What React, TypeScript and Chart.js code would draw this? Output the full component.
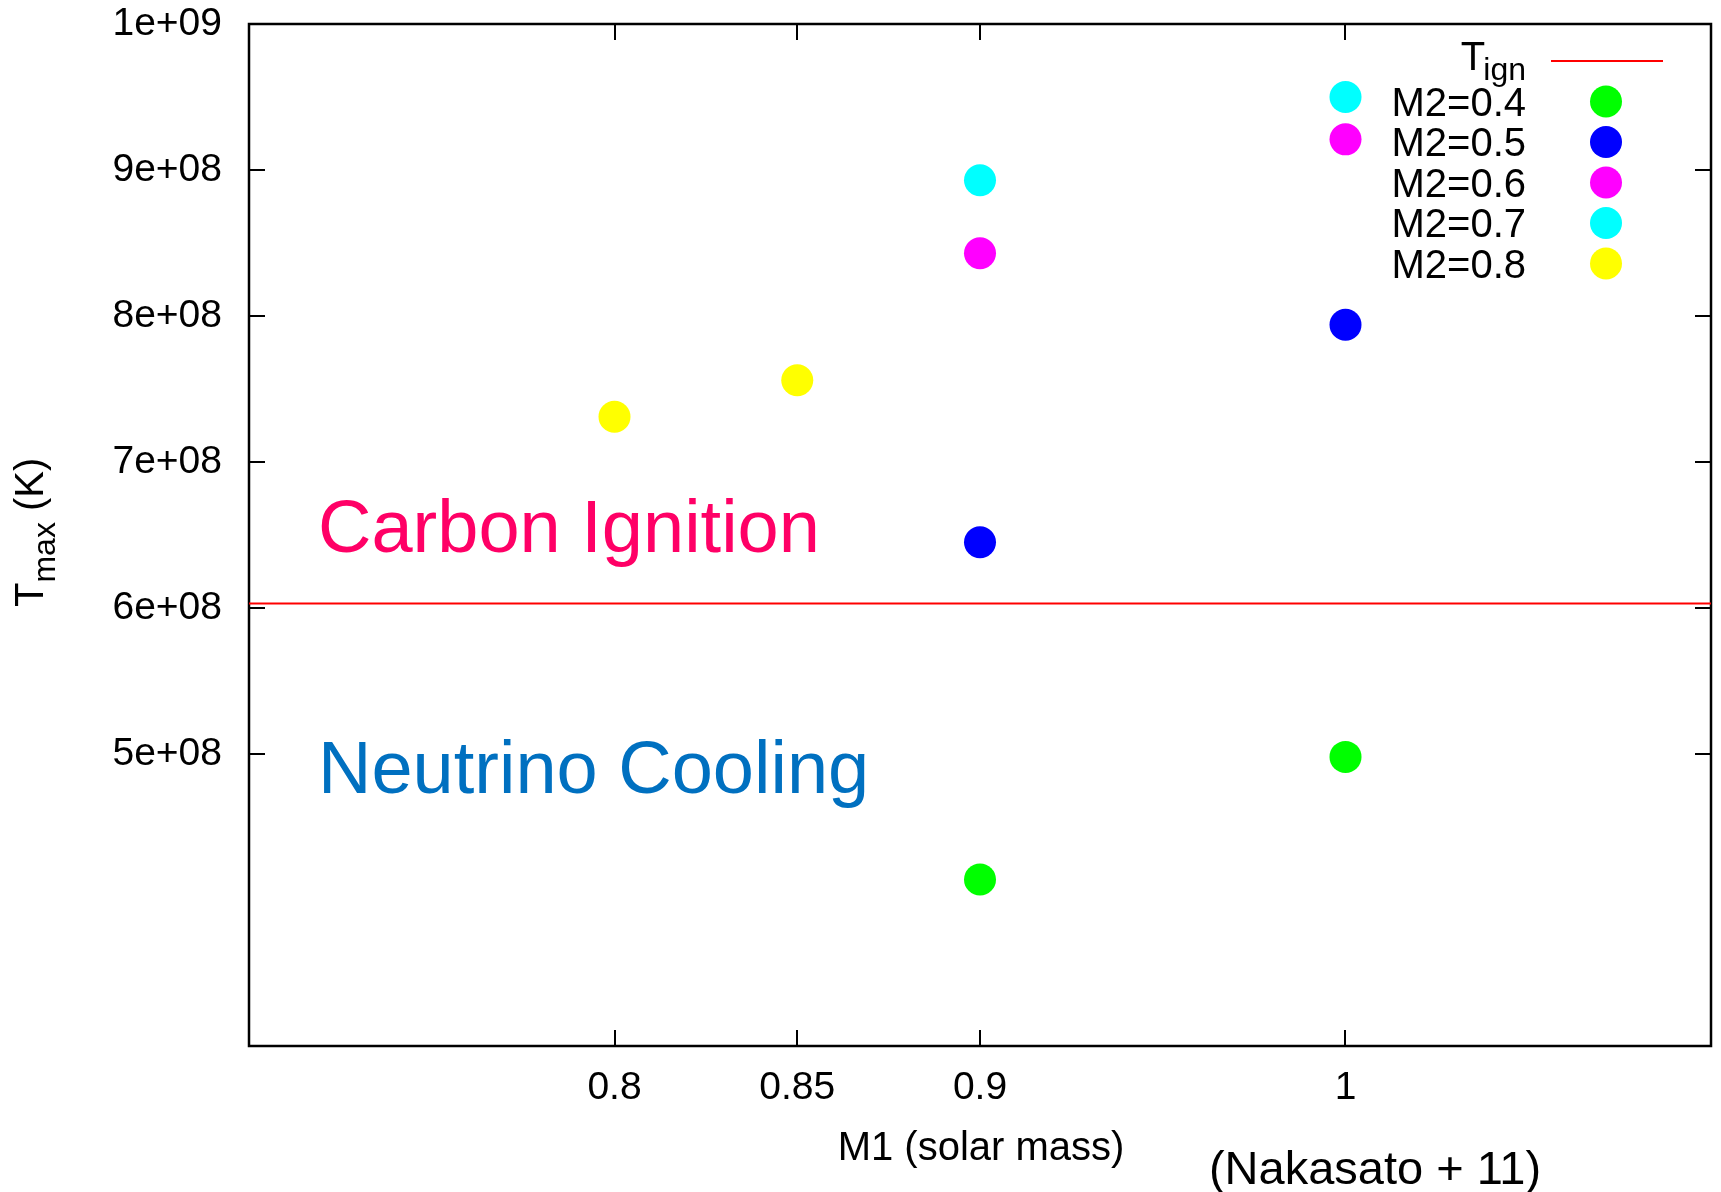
import React, { useEffect, useRef } from "react";
import { Chart, registerables } from "chart.js";

Chart.register(...registerables);

// ---- data ----
const xTicks = [0.8, 0.85, 0.9, 1];
const yTicks = [5e8, 6e8, 7e8, 8e8, 9e8, 1e9];
const xRange = [0.7, 1.1];
const yRange = [3e8, 1e9];

const tIgn = 6.03e8;

const m2Labels = ["M2=0.4", "M2=0.5", "M2=0.6", "M2=0.7", "M2=0.8"];
const m2Colors = ["#00ff00", "#0000ff", "#ff00ff", "#00ffff", "#ffff00"];

const m1_M04 = [0.9, 1.0];
const tmax_M04 = [4.14e8, 4.98e8];
const m1_M05 = [0.9, 1.0];
const tmax_M05 = [6.45e8, 7.94e8];
const m1_M06 = [0.9, 1.0];
const tmax_M06 = [8.43e8, 9.21e8];
const m1_M07 = [0.9, 1.0];
const tmax_M07 = [8.93e8, 9.5e8];
const m1_M08 = [0.8, 0.85];
const tmax_M08 = [7.31e8, 7.56e8];

const seriesX = [m1_M04, m1_M05, m1_M06, m1_M07, m1_M08];
const seriesY = [tmax_M04, tmax_M05, tmax_M06, tmax_M07, tmax_M08];

const FONT = "'Liberation Sans', Arial, sans-serif";

function fmtExp(v: number): string {
  const e = Math.floor(Math.log10(v) + 1e-9);
  const m = Math.round(v / Math.pow(10, e));
  return `${m}e+${String(e).padStart(2, "0")}`;
}

const decor = {
  id: "decor",
  beforeDatasetsDraw(chart: any) {
    const { ctx, chartArea: a, scales } = chart;
    ctx.save();
    ctx.strokeStyle = "#000";
    ctx.lineWidth = 2;
    const tl = 16;
    ctx.beginPath();
    xTicks.forEach((v) => {
      const px = Math.round(scales.x.getPixelForValue(v));
      ctx.moveTo(px, a.bottom);
      ctx.lineTo(px, a.bottom - tl);
      ctx.moveTo(px, a.top);
      ctx.lineTo(px, a.top + tl);
    });
    yTicks.forEach((v) => {
      const py = Math.round(scales.y.getPixelForValue(v));
      ctx.moveTo(a.left, py);
      ctx.lineTo(a.left + tl, py);
      ctx.moveTo(a.right, py);
      ctx.lineTo(a.right - tl, py);
    });
    ctx.stroke();
    ctx.lineWidth = 2.5;
    ctx.strokeRect(a.left, a.top, a.right - a.left, a.bottom - a.top);
    ctx.restore();
  },
  afterDatasetsDraw(chart: any) {
    const { ctx } = chart;
    ctx.save();
    ctx.textBaseline = "alphabetic";

    // region annotations
    ctx.textAlign = "left";
    ctx.font = `74px ${FONT}`;
    ctx.fillStyle = "#ff0066";
    ctx.fillText("Carbon Ignition", 318, 552);
    ctx.fillStyle = "#0070c0";
    ctx.fillText("Neutrino Cooling", 318, 793);

    // x-axis title
    ctx.fillStyle = "#000";
    ctx.textAlign = "center";
    ctx.font = `40px ${FONT}`;
    ctx.fillText("M1 (solar mass)", 981, 1160);

    // citation
    ctx.font = `47px ${FONT}`;
    ctx.fillText("(Nakasato + 11)", 1375, 1184);

    // y-axis title (rotated, with subscript)
    ctx.save();
    ctx.translate(43, 607);
    ctx.rotate(-Math.PI / 2);
    ctx.textAlign = "left";
    ctx.font = `40px ${FONT}`;
    ctx.fillText("T", 0, 0);
    let w = ctx.measureText("T").width;
    ctx.font = `32px ${FONT}`;
    ctx.fillText("max", w, 12);
    w += ctx.measureText("max").width;
    ctx.font = `40px ${FONT}`;
    ctx.fillText(" (K)", w, 0);
    ctx.restore();

    // legend
    const textRight = 1526;
    const markX = 1606;
    ctx.textAlign = "left";
    ctx.font = `32px ${FONT}`;
    const wSub = ctx.measureText("ign").width;
    ctx.font = `40px ${FONT}`;
    const wT = ctx.measureText("T").width;
    const startX = textRight - wSub - wT + 2;
    ctx.fillText("T", startX, 70);
    ctx.font = `32px ${FONT}`;
    ctx.fillText("ign", startX + wT - 2, 80);
    ctx.strokeStyle = "#ff0000";
    ctx.lineWidth = 2;
    ctx.beginPath();
    ctx.moveTo(1551, 61);
    ctx.lineTo(1663, 61);
    ctx.stroke();

    ctx.font = `40px ${FONT}`;
    ctx.textAlign = "right";
    m2Labels.forEach((lab, i) => {
      const cy = 101.5 + i * 40.5;
      ctx.fillStyle = "#000";
      ctx.fillText(lab, textRight, cy + 14);
      ctx.fillStyle = m2Colors[i];
      ctx.beginPath();
      ctx.arc(markX, cy, 16, 0, Math.PI * 2);
      ctx.fill();
    });
    ctx.restore();
  },
};

export default function App() {
  const ref = useRef<HTMLCanvasElement | null>(null);

  useEffect(() => {
    if (!ref.current) return;
    const datasets: any[] = [
      {
        label: "Tign",
        data: [
          { x: xRange[0], y: tIgn },
          { x: xRange[1], y: tIgn },
        ],
        showLine: true,
        borderColor: "#ff0000",
        borderWidth: 2,
        pointRadius: 0,
        fill: false,
      },
    ];
    m2Labels.forEach((lab, i) => {
      datasets.push({
        label: lab,
        data: seriesX[i].map((x, j) => ({ x, y: seriesY[i][j] })),
        pointRadius: 16,
        pointHoverRadius: 16,
        pointBackgroundColor: m2Colors[i],
        pointBorderWidth: 0,
        borderColor: m2Colors[i],
        showLine: false,
      });
    });

    const zeroPad = (s: any) => {
      s.paddingTop = 0;
      s.paddingBottom = 0;
      s.paddingLeft = 0;
      s.paddingRight = 0;
    };

    const chart = new Chart(ref.current, {
      type: "scatter",
      data: { datasets },
      options: {
        animation: false,
        responsive: false,
        devicePixelRatio: 1,
        layout: { autoPadding: false, padding: { top: 24, right: 10, left: 0, bottom: 0 } },
        plugins: {
          legend: { display: false },
          tooltip: { enabled: false },
          title: { display: false },
        },
        scales: {
          x: {
            type: "linear",
            min: xRange[0],
            max: xRange[1],
            grid: { display: false, drawTicks: false },
            border: { display: false },
            ticks: {
              color: "#000",
              font: { family: FONT, size: 39 },
              padding: 19,
              maxRotation: 0,
              autoSkip: false,
              callback: (v: any) => String(Number(v)),
            },
            afterBuildTicks: (s: any) => {
              s.ticks = xTicks.map((v) => ({ value: v }));
            },
            afterFit: (s: any) => {
              s.height = 146;
              zeroPad(s);
            },
          },
          y: {
            type: "linear",
            min: yRange[0],
            max: yRange[1],
            grid: { display: false, drawTicks: false },
            border: { display: false },
            ticks: {
              color: "#000",
              font: { family: FONT, size: 39 },
              padding: 27,
              autoSkip: false,
              callback: (v: any) => fmtExp(Number(v)),
            },
            afterBuildTicks: (s: any) => {
              s.ticks = yTicks.map((v) => ({ value: v }));
            },
            afterFit: (s: any) => {
              s.width = 249;
              zeroPad(s);
            },
          },
        },
      },
      plugins: [decor],
    });
    return () => chart.destroy();
  }, []);

  return (
    <div
      style={{
        position: "fixed",
        left: 0,
        top: 0,
        width: 1721,
        height: 1192,
        background: "#fff",
      }}
    >
      <canvas ref={ref} width={1721} height={1192} style={{ display: "block" }} />
    </div>
  );
}
